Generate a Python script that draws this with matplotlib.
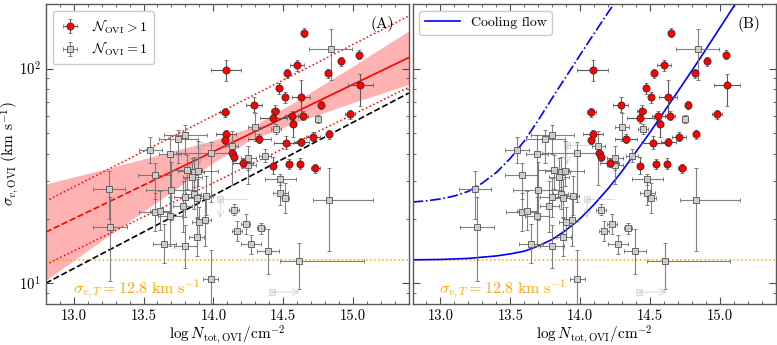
import numpy as np
import matplotlib
matplotlib.use('Agg')
import matplotlib.pyplot as plt
from matplotlib.ticker import MultipleLocator, NullFormatter
from matplotlib.lines import Line2D

plt.rcParams['font.family'] = 'cmr10'
plt.rcParams['mathtext.fontset'] = 'cm'
plt.rcParams['axes.formatter.use_mathtext'] = True
plt.rcParams['axes.unicode_minus'] = False

# ---- N_OVI > 1 (red) : logN, sigma, x err (dex), y err lo/hi (dex)
red_logN = [14.65, 15.04, 14.91, 14.82, 14.60, 14.53, 14.09, 15.05, 14.47, 14.51,
            14.63, 14.77, 14.29, 14.98, 14.44, 14.56, 14.64, 14.43, 14.57, 14.83,
            14.71, 14.33, 14.52, 14.63, 14.08, 14.09, 14.08, 14.135, 14.147, 14.21,
            14.43, 14.54, 14.62, 14.73]
red_sig = [147, 116, 108, 95, 103.5, 95, 98, 84, 81, 73.4,
           73.4, 67.6, 68, 61.3, 63.2, 60.3, 60.3, 58.6, 55.2, 49.4,
           48.2, 47.2, 45.1, 45.4, 62.5, 49.4, 46.6, 40.5, 38.8, 36.3,
           35.3, 35.9, 36.0, 34.3]
red_dx = [0.02, 0.02, 0.02, 0.02, 0.05, 0.02, 0.11, 0.09, 0.02, 0.02,
          0.065, 0.02, 0.055, 0.035, 0.03, 0.045, 0.035, 0.095, 0.02, 0.02,
          0.05, 0.08, 0.085, 0.055, 0.03, 0.07, 0.02, 0.02, 0.02, 0.07,
          0.02, 0.02, 0.02, 0.03]
red_dylo = [0.02, 0.02, 0.02, 0.02, 0.025, 0.02, 0.05, 0.10, 0.025, 0.025,
            0.08, 0.02, 0.035, 0.02, 0.03, 0.02, 0.02, 0.02, 0.06, 0.02,
            0.02, 0.02, 0.03, 0.02, 0.02, 0.02, 0.02, 0.02, 0.02, 0.02,
            0.04, 0.025, 0.025, 0.02]
red_dyhi = [0.02, 0.02, 0.02, 0.02, 0.025, 0.02, 0.05, 0.05, 0.025, 0.025,
            0.08, 0.02, 0.035, 0.02, 0.03, 0.02, 0.02, 0.02, 0.02, 0.02,
            0.02, 0.02, 0.03, 0.02, 0.02, 0.02, 0.02, 0.02, 0.02, 0.02,
            0.04, 0.025, 0.025, 0.02]

# ---- N_OVI = 1 (gray)
gray_logN = [14.84, 14.75, 14.30, 14.45, 13.80, 13.75, 13.55, 14.13, 13.98, 13.69,
             14.25, 14.37, 14.25, 13.58, 13.81, 13.86, 13.89, 13.85, 13.25, 13.70,
             13.86, 13.80, 13.95, 13.88, 13.78, 13.58, 13.62, 13.69, 13.26, 13.65,
             13.80, 13.88, 13.90, 13.94, 13.98, 14.48, 14.48, 14.51, 14.83, 14.15,
             14.23, 14.17, 14.34, 14.27, 14.39, 14.61]
gray_sig = [122.8, 58.2, 53.6, 52.3, 49.1, 47.0, 41.8, 43.4, 40.4, 40.2,
            38.3, 39.2, 35.5, 32.0, 33.7, 32.9, 33.2, 31.1, 27.5, 27.1,
            26.0, 25.1, 25.6, 24.9, 22.8, 21.5, 21.8, 20.5, 18.3, 15.3,
            14.9, 16.5, 19.2, 19.6, 10.5, 30.5, 26.3, 24.9, 24.5, 22.0,
            18.9, 17.5, 18.0, 15.2, 14.2, 12.7]
gray_dxlo = [0.155, 0.02, 0.05, 0.035, 0.155, 0.14, 0.085, 0.045, 0.25, 0.08,
             0.055, 0.045, 0.055, 0.12, 0.11, 0.07, 0.14, 0.07, 0.115, 0.18,
             0.055, 0.085, 0.045, 0.07, 0.07, 0.11, 0.07, 0.085, 0.12, 0.085,
             0.085, 0.055, 0.055, 0.045, 0.055, 0.11, 0.055, 0.03, 0.115, 0.035,
             0.035, 0.035, 0.03, 0.07, 0.08, 0.135]
gray_dxhi = [0.155, 0.02, 0.05, 0.035, 0.155, 0.14, 0.085, 0.045, 0.18, 0.08,
             0.055, 0.045, 0.055, 0.12, 0.11, 0.07, 0.14, 0.07, 0.115, 0.18,
             0.055, 0.085, 0.045, 0.07, 0.07, 0.11, 0.07, 0.085, 0.12, 0.085,
             0.085, 0.055, 0.055, 0.045, 0.055, 0.11, 0.055, 0.03, 0.315, 0.035,
             0.035, 0.035, 0.03, 0.07, 0.08, 0.465]
gray_dylo = [0.14, 0.02, 0.065, 0.025, 0.09, 0.11, 0.06, 0.18, 0.23, 0.28,
             0.055, 0.03, 0.09, 0.115, 0.09, 0.07, 0.07, 0.09, 0.14, 0.14,
             0.07, 0.09, 0.09, 0.09, 0.12, 0.09, 0.09, 0.14, 0.25, 0.09,
             0.10, 0.09, 0.07, 0.12, 0.2, 0.025, 0.055, 0.07, 0.24, 0.025,
             0.045, 0.045, 0.025, 0.045, 0.11, 0.13]
gray_dyhi = [0.096, 0.02, 0.065, 0.025, 0.045, 0.04, 0.06, 0.07, 0.05, 0.085,
             0.055, 0.03, 0.03, 0.055, 0.07, 0.07, 0.14, 0.09, 0.085, 0.13,
             0.07, 0.09, 0.09, 0.09, 0.12, 0.09, 0.09, 0.09, 0.14, 0.09,
             0.10, 0.09, 0.07, 0.12, 0.135, 0.025, 0.055, 0.07, 0.15, 0.025,
             0.045, 0.045, 0.025, 0.045, 0.10, 0.085]

# ---- limits (faded): logN, sigma, arrow direction
lim_logN = [13.905, 14.05, 14.42]
lim_sig = [44.0, 24.7, 9.1]
lim_dir = ['down', 'down', 'right']

# ---- fit (panel A)
fit_logN = [12.8, 13.65, 15.4]
fit_sig = [17.3, 31.9, 112.7]
band_logN = [12.8, 13.2, 13.6, 14.0, 14.25, 14.6, 15.0, 15.4]
band_lo = [10.3, 15.8, 24.0, 36.5, 45.9, 56.4, 69.5, 84.5]
band_hi = [29.0, 33.7, 39.5, 46.3, 52.7, 71.0, 102.8, 150.3]
scat_logN = [12.8, 15.4]
scat_hi = [24.1, 176.0]
scat_lo = [12.2, 82.0]
ref_sig = [10.0, 77.0]
sig_T = 12.8

# ---- cooling flow (panel B)
cool_logN = [12.8, 13.0, 13.2, 13.4, 13.5, 13.6, 13.7, 13.8, 13.9, 14.0,
             14.1, 14.2, 14.3, 14.4, 14.5, 14.6, 14.7, 14.8, 14.9, 15.0, 15.11]
cool_sig = [12.85, 12.9, 13.05, 13.4, 13.7, 14.1, 14.9, 16.0, 17.7, 20.0,
            23.3, 27.6, 33.3, 41.0, 50.5, 63.0, 78.5, 98.0, 123.0, 155.0, 200.0]
cool2_logN = [12.8, 12.9, 13.0, 13.1, 13.2, 13.3, 13.4, 13.5, 13.6, 13.7,
              13.8, 13.9, 14.0, 14.1, 14.24]
cool2_sig = [23.9, 24.2, 24.7, 25.5, 26.8, 29.3, 32.8, 38.2, 46.0, 57.5,
             73.0, 92.0, 116.0, 146.0, 200.0]


def log_err(sig, dlo, dhi):
	sig = np.array(sig)
	lo = sig * (1 - 10 ** (-np.array(dlo)))
	hi = sig * (10 ** np.array(dhi) - 1)
	return [lo, hi]


def draw_points(ax):
	eg = ax.errorbar(gray_logN, gray_sig, xerr=[gray_dxlo, gray_dxhi],
	                 yerr=log_err(gray_sig, gray_dylo, gray_dyhi),
	                 fmt='s', ms=4.6, mfc='#cfcfcf', mec='0.35', mew=0.7,
	                 ecolor='0.45', elinewidth=0.8, capsize=1.3, capthick=0.7,
	                 alpha=0.9, zorder=4, label=r'$\mathcal{N}_{\rm OVI} = 1$')
	er = ax.errorbar(red_logN, red_sig, xerr=red_dx,
	                 yerr=log_err(red_sig, red_dylo, red_dyhi),
	                 fmt='o', ms=5.2, mfc='red', mec='0.15', mew=0.5,
	                 ecolor='0.35', elinewidth=0.8, capsize=1.3, capthick=0.7,
	                 zorder=5, label=r'$\mathcal{N}_{\rm OVI} > 1$')
	for x, s, d in zip(lim_logN, lim_sig, lim_dir):
		ax.plot(x, s, 's', ms=4.6, mfc='0.8', mec='0.6', mew=0.6, alpha=0.35, zorder=3)
		if d == 'down':
			end = (x, s / 10 ** 0.09)
			ax.plot([x, x + 0.19], [s, s], color='0.6', lw=0.8, alpha=0.35, zorder=3)
		else:
			end = (x + 0.2, s)
		ax.annotate('', xy=end, xytext=(x, s), zorder=3,
		            arrowprops=dict(arrowstyle='->', color='0.6', lw=0.8, alpha=0.35,
		                            shrinkA=0, shrinkB=0, mutation_scale=12))
	return er, eg


def style(ax, ylab=True):
	ax.set_xlim(12.8, 15.4)
	ax.set_ylim(8, 200)
	ax.set_yscale('log')
	ax.xaxis.set_major_locator(MultipleLocator(0.5))
	ax.xaxis.set_minor_locator(MultipleLocator(0.1))
	ax.xaxis.set_major_formatter(plt.FuncFormatter(lambda v, p: '%.1f' % v))
	ax.yaxis.set_minor_formatter(NullFormatter())
	ax.tick_params(which='both', direction='in', top=True, right=True,
	               labelsize=10.5, colors='0.3', labelcolor='k')
	ax.tick_params(which='major', length=5, width=0.8)
	ax.tick_params(which='minor', length=2.5, width=0.6)
	for sp in ax.spines.values():
		sp.set_color('0.35')
		sp.set_linewidth(1.0)
	ax.set_xlabel(r'$\log N_{\rm tot,OVI}/{\rm cm}^{-2}$', fontsize=11, labelpad=1)
	if ylab:
		ax.set_ylabel(r'$\sigma_{v,\rm OVI}$ (km s$^{-1}$)', fontsize=11, va='center')
		ax.yaxis.set_label_coords(-0.098, 0.5)
	else:
		ax.yaxis.set_major_formatter(NullFormatter())
	ax.axhline(sig_T, color='orange', ls=':', lw=1.1, zorder=1)
	ax.text(0.074, 0.053, r'$\sigma_{v,T} = 12.8\ {\rm km\ s^{-1}}$', color='orange',
	        fontsize=11.5, transform=ax.transAxes, ha='left', va='center')


fig = plt.figure(figsize=(7.77, 3.45), dpi=100)
axA = fig.add_axes([0.0588, 0.1188, 0.4676, 0.8696])
axB = fig.add_axes([0.5309, 0.1188, 0.4676, 0.8696])

# panel A
axA.fill_between(band_logN, band_lo, band_hi, color='red', alpha=0.3, lw=0, zorder=1)
axA.plot(fit_logN[:2], fit_sig[:2], color='red', ls='--', lw=1.2, zorder=2)
axA.plot(fit_logN[1:], fit_sig[1:], color='red', ls='-', lw=1.2, zorder=2)
axA.plot(scat_logN, scat_hi, color='red', ls=':', lw=1.1, zorder=2)
axA.plot(scat_logN, scat_lo, color='red', ls=':', lw=1.1, zorder=2)
axA.plot(scat_logN, ref_sig, color='k', ls='--', lw=1.2, zorder=2)
er, eg = draw_points(axA)
style(axA)
axA.legend(handles=[er, eg], loc='upper left', fontsize=10, handlelength=1.6,
           borderpad=0.45, labelspacing=0.3, framealpha=1, edgecolor='0.8')
axA.text(0.958, 0.935, '(A)', transform=axA.transAxes, ha='right', va='center', fontsize=11)

# panel B
draw_points(axB)
axB.plot(cool_logN, cool_sig, color='blue', ls='-', lw=1.2, zorder=2)
axB.plot(cool2_logN, cool2_sig, color='blue', ls='-.', lw=1.2, zorder=2)
style(axB, ylab=False)
axB.legend(handles=[Line2D([], [], color='blue', lw=1.2)], labels=['Cooling flow'],
           loc='upper left', fontsize=10, handlelength=2.5, framealpha=1, edgecolor='0.8')
axB.text(0.958, 0.935, '(B)', transform=axB.transAxes, ha='right', va='center', fontsize=11)

fig.savefig('out.png', dpi=100)
